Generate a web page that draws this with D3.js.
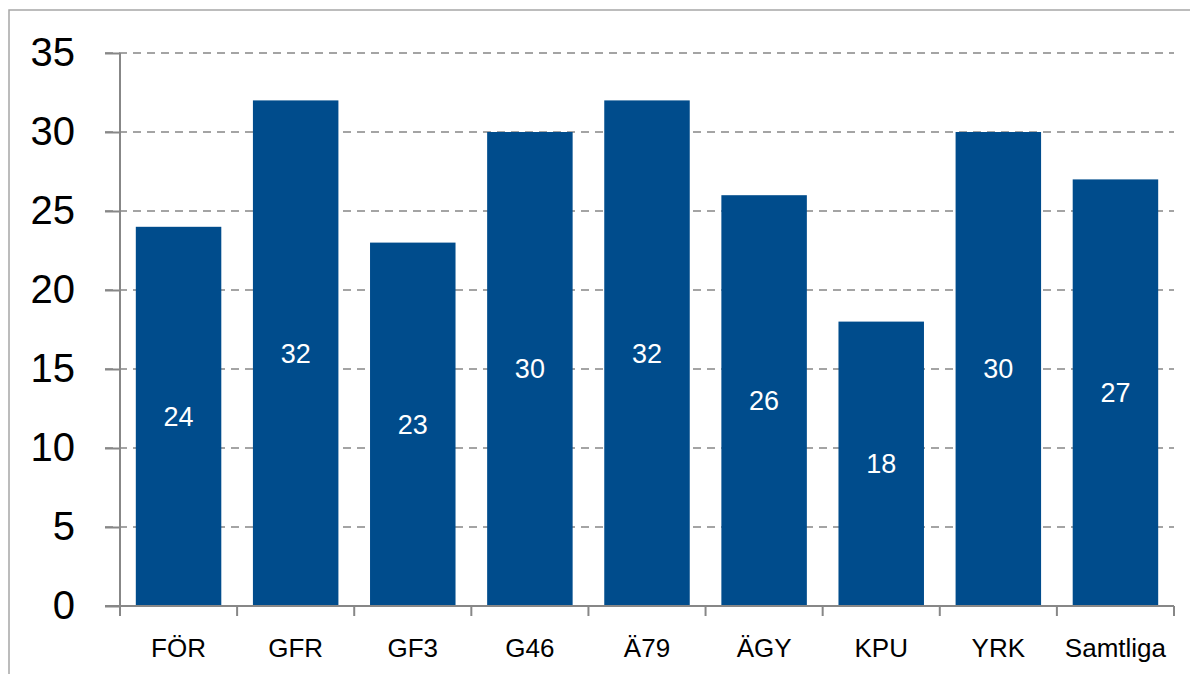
<!DOCTYPE html>
<html>
<head>
<meta charset="utf-8">
<script src="https://cdn.jsdelivr.net/npm/d3@7"></script>
<style>
  body { margin: 0; background: #fff; }
  svg { display: block; font-family: "Liberation Sans", Arial, sans-serif; }
</style>
</head>
<body>
<svg></svg>
<script>
const categories = ["FÖR", "GFR", "GF3", "G46", "Ä79", "ÄGY", "KPU", "YRK", "Samtliga"];
const values = [24, 32, 23, 30, 32, 26, 18, 30, 27];
const yTicks = [0, 5, 10, 15, 20, 25, 30, 35];

const svgWidth = 1190, svgHeight = 674;
const plotLeft = 120, plotRight = 1174, plotTop = 53, plotBottom = 606;
const barColor = "#004c8c";
const axisColor = "#878787";

const svg = d3.select("svg")
    .attr("width", svgWidth)
    .attr("height", svgHeight);

// outer chart frame (runs off the right/bottom edge)
svg.append("rect")
    .attr("x", 9).attr("y", 10)
    .attr("width", 1200).attr("height", 700)
    .attr("fill", "none")
    .attr("stroke", "#a6a6a6")
    .attr("stroke-width", 1.5);

const x = d3.scaleBand()
    .domain(categories)
    .range([plotLeft, plotRight])
    .paddingInner(0.27)
    .paddingOuter(0.135);

const xEdges = d3.scaleLinear()
    .domain([0, categories.length])
    .range([plotLeft, plotRight]);

const y = d3.scaleLinear()
    .domain([0, 35])
    .range([plotBottom, plotTop]);

// dashed gridlines
svg.append("g")
    .selectAll("line")
    .data(yTicks.filter(t => t > 0))
    .enter().append("line")
    .attr("x1", plotLeft - 15).attr("x2", plotRight)
    .attr("y1", d => y(d)).attr("y2", d => y(d))
    .attr("stroke", axisColor)
    .attr("stroke-width", 1.5)
    .attr("stroke-dasharray", "8,6");

// bars
svg.append("g")
    .selectAll("rect")
    .data(values)
    .enter().append("rect")
    .attr("x", (d, i) => x(categories[i]))
    .attr("y", d => y(d))
    .attr("width", x.bandwidth())
    .attr("height", d => plotBottom - y(d))
    .attr("fill", barColor);

// value labels inside bars
svg.append("g")
    .selectAll("text")
    .data(values)
    .enter().append("text")
    .attr("x", (d, i) => x(categories[i]) + x.bandwidth() / 2)
    .attr("y", d => (y(d) + plotBottom) / 2)
    .attr("dy", "0.35em")
    .attr("text-anchor", "middle")
    .attr("fill", "#fff")
    .attr("font-size", 27)
    .text(d => d);

// y axis
const axsLeft = d3.axisLeft(y)
    .tickValues(yTicks)
    .tickSize(15)
    .tickPadding(30);
const gy = svg.append("g")
    .attr("transform", "translate(" + plotLeft + ",0)")
    .call(axsLeft);
gy.select(".domain").remove();
gy.selectAll(".tick line").attr("stroke", axisColor).attr("stroke-width", 2);
gy.selectAll(".tick text")
    .attr("font-size", 40)
    .attr("font-family", "Liberation Sans, Arial, sans-serif")
    .attr("fill", "#000");
gy.append("line")
    .attr("x1", 0).attr("x2", 0)
    .attr("y1", plotTop).attr("y2", plotBottom)
    .attr("stroke", axisColor)
    .attr("stroke-width", 2);

// x axis
const gx = svg.append("g");
gx.append("line")
    .attr("x1", plotLeft - 15).attr("x2", plotRight)
    .attr("y1", plotBottom).attr("y2", plotBottom)
    .attr("stroke", axisColor)
    .attr("stroke-width", 2);
gx.selectAll(".edge")
    .data(d3.range(categories.length + 1))
    .enter().append("line")
    .attr("class", "edge")
    .attr("x1", d => xEdges(d)).attr("x2", d => xEdges(d))
    .attr("y1", plotBottom).attr("y2", plotBottom + 10)
    .attr("stroke", axisColor)
    .attr("stroke-width", 2);
gx.selectAll("text")
    .data(categories)
    .enter().append("text")
    .attr("x", d => x(d) + x.bandwidth() / 2)
    .attr("y", 657)
    .attr("text-anchor", "middle")
    .attr("font-size", 26)
    .attr("fill", "#000")
    .text(d => d);
</script>
</body>
</html>
